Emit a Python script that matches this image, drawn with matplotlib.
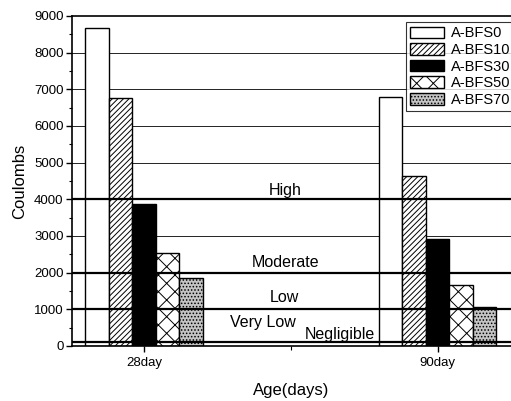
import matplotlib
matplotlib.use("Agg")
import matplotlib.pyplot as plt
import numpy as np
from matplotlib.ticker import MultipleLocator

plt.rcParams['font.family'] = ['Liberation Sans', 'DejaVu Sans']
plt.rcParams['hatch.linewidth'] = 0.7

categories = ["28day", "90day"]
series = ["A-BFS0", "A-BFS10", "A-BFS30", "A-BFS50", "A-BFS70"]
values = {
    "A-BFS0": [8670, 6790],
    "A-BFS10": [6770, 4645],
    "A-BFS30": [3870, 2910],
    "A-BFS50": [2530, 1660],
    "A-BFS70": [1850, 1070],
}
thresholds = [4000, 2000, 1000, 100]
zone_labels = ["High", "Moderate", "Low", "Very Low", "Negligible"]
zone_label_x = [0.482, 0.482, 0.477, 0.405, 0.667]
zone_label_y = [4250, 2290, 1310, 640, 320]

styles = [
    dict(facecolor="white", hatch=None),
    dict(facecolor="white", hatch="//////"),
    dict(facecolor="black", hatch=None),
    dict(facecolor="white", hatch="xx"),
    dict(facecolor="#c4c4c4", hatch="....."),
]

fig = plt.figure(figsize=(5.11, 4.01), dpi=100)
ax = fig.add_axes([72/511, 1-346/401, 1-72/511, 330/401])

x = np.arange(len(categories))
w = 0.08
for i, s in enumerate(series):
    ax.bar(x + (i - 2) * w, values[s], width=w, edgecolor="black",
           linewidth=1.0, label=s, zorder=2, **styles[i])

for yv in range(1000, 9000, 1000):
    ax.axhline(yv, color="black", lw=0.6, zorder=1)
for t in thresholds:
    ax.axhline(t, color="black", lw=1.6, zorder=3)

for lab, lx, ly in zip(zone_labels, zone_label_x, zone_label_y):
    ax.text(lx, ly, lab, ha="center", va="center", fontsize=11.5, zorder=4)

ax.set_xlim(-0.245, 1.25)
ax.set_ylim(0, 9000)
ax.set_xticks(x)
ax.set_xticklabels(categories, fontsize=9.5)
ax.xaxis.set_minor_locator(MultipleLocator(0.5))
ax.yaxis.set_major_locator(MultipleLocator(1000))
ax.yaxis.set_minor_locator(MultipleLocator(500))
ax.tick_params(axis="y", labelsize=9.5, direction="out", length=4, width=1, pad=2)
ax.tick_params(axis="y", which="minor", direction="out", length=2, width=0.8)
ax.tick_params(axis="x", direction="out", length=4, width=1, pad=4)
ax.tick_params(axis="x", which="minor", direction="out", length=3, width=0.8)
ax.spines["right"].set_visible(False)
for sp in ["left", "bottom", "top"]:
    ax.spines[sp].set_linewidth(1.2)

ax.set_ylabel("Coulombs", fontsize=12, labelpad=5)
ax.set_xlabel("Age(days)", fontsize=12, labelpad=10)

leg = ax.legend(loc="upper left", bbox_to_anchor=(406/511, 1-22/401),
                bbox_transform=fig.transFigure, fontsize=10.5, frameon=True,
                fancybox=False, edgecolor="black", handlelength=2.3,
                handleheight=0.85, labelspacing=0.18, borderpad=0.3,
                handletextpad=0.45, borderaxespad=0)
leg.get_frame().set_linewidth(0.8)
leg.set_zorder(5)

fig.savefig("out.png", dpi=100)
